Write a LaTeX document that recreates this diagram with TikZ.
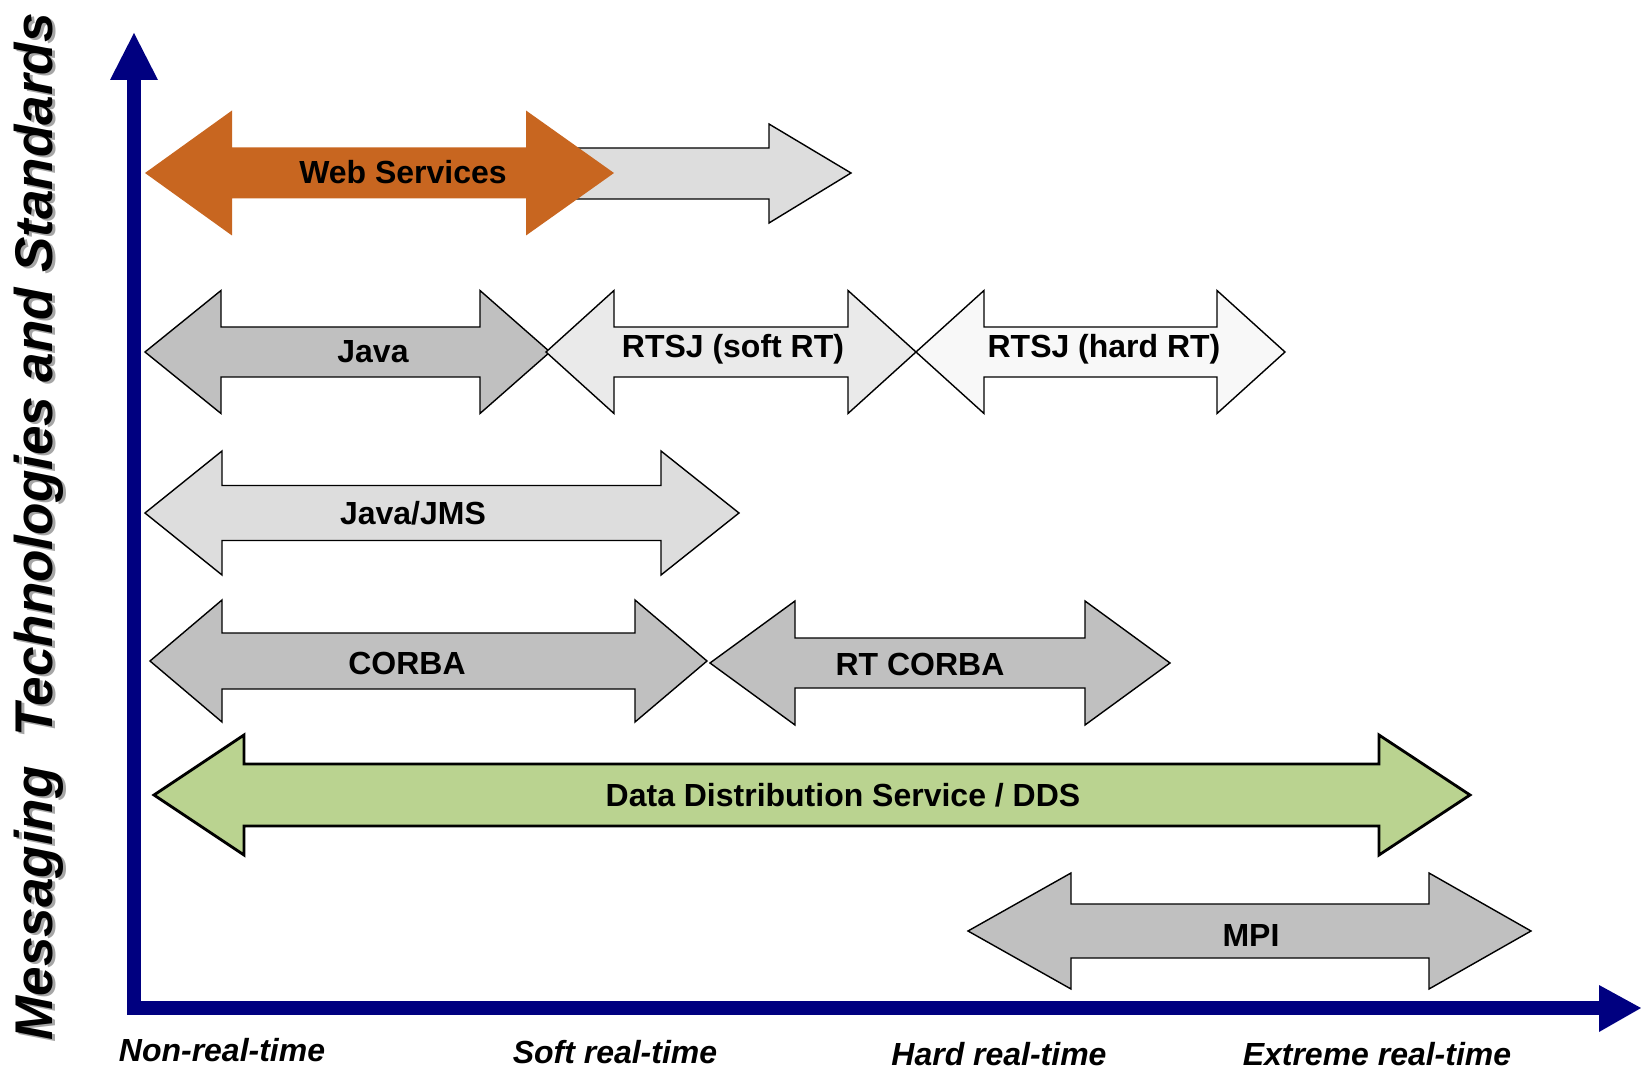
\documentclass[tikz,border=0pt]{standalone}
\usepackage{fontspec}
\setmainfont{Liberation Sans}
\usepackage{xcolor}
\usepackage{tikz}
\usetikzlibrary{positioning, arrows.meta}
\definecolor{AxisNavy}{RGB}{0,0,128}
\definecolor{WebOrange}{RGB}{200,102,32}
\definecolor{DdsGreen}{RGB}{186,211,144}
\definecolor{SilverGrey}{RGB}{192,192,192}
\definecolor{LightGrey}{RGB}{221,221,221}
\definecolor{PaleGrey}{RGB}{234,234,234}
\definecolor{WhiteGrey}{RGB}{248,248,248}
\tikzset{
  bar/.style={draw=black, line width=0.4pt, line join=miter},
  silverbar/.style={bar, fill=SilverGrey},
  lightbar/.style={bar, fill=LightGrey},
  palebar/.style={bar, fill=PaleGrey},
  whitebar/.style={bar, fill=WhiteGrey},
  webbar/.style={fill=WebOrange, draw=none},
  ddsbar/.style={bar, fill=DdsGreen, line width=0.8pt},
  barlab/.style={font=\bfseries\fontsize{9.1}{11}\selectfont, inner sep=1pt},
  axislab/.style={font=\bfseries\itshape\fontsize{9.1}{11}\selectfont, inner sep=0pt, anchor=base},
  axisline/.style={draw=AxisNavy, line width=0.14cm, line join=miter},
  axishead/.style={fill=AxisNavy},
  ttl/.style={font=\bfseries\itshape\fontsize{15.1}{18}\selectfont, rotate=90, anchor=base, inner sep=0pt},
}

\begin{document}
\begin{tikzpicture}
    \useasboundingbox (0,0) rectangle (16.41,10.67);
    % axes
    \coordinate (ytip) at (1.34,10.34);
    \coordinate (orig) at (1.34,0.59);
    \coordinate (xtip) at (16.41,0.59);
    \draw[axisline] (1.34,9.87) -- (orig) -- (15.99,0.59);
    \fill[axishead] (1.10,9.87) -- (ytip) -- (1.58,9.87) -- cycle;
    \fill[axishead] (15.99,0.35) -- (xtip) -- (15.99,0.82) -- cycle;
    % title with its shadow
    \node[ttl, text=gray!70] (ttlshadow) at (0.56,5.38) {Messaging\ \ Technologies and Standards};
    \node[ttl] (ttl) at (0.53,5.40) {Messaging\ \ Technologies and Standards};
    % grey tail behind the web services bar
    \draw[lightbar] (5.40,9.19) -- (7.69,9.19) -- (7.69,9.43) -- (8.51,8.94) -- (7.69,8.44) -- (7.69,8.68) -- (5.40,8.68) -- cycle;
    % double arrows: name/style/y/left tip/left base/right base/right tip/head/shaft/label x/label y/label
    \foreach \nm/\col/\y/\xa/\xb/\xc/\xd/\hh/\sh/\tx/\ty/\lab in {
        web/webbar/8.94/1.45/2.32/5.26/6.14/0.625/0.255/4.03/8.95/{Web Services},
        java/silverbar/7.15/1.45/2.21/4.80/5.50/0.615/0.25/3.73/7.15/Java,
        rtsjsoft/palebar/7.15/5.46/6.14/8.48/9.16/0.615/0.25/7.33/7.18/{RTSJ (soft RT)},
        rtsjhard/whitebar/7.15/9.16/9.84/12.17/12.85/0.615/0.25/11.04/7.18/{RTSJ (hard RT)},
        jms/lightbar/5.54/1.45/2.22/6.61/7.39/0.62/0.275/4.13/5.54/{Java/JMS},
        corba/silverbar/4.06/1.50/2.22/6.35/7.07/0.61/0.28/4.07/4.04/CORBA,
        rtcorba/silverbar/4.04/7.10/7.95/10.85/11.70/0.62/0.25/9.20/4.03/{RT CORBA},
        dds/ddsbar/2.72/1.54/2.44/13.79/14.70/0.60/0.31/8.43/2.72/{Data Distribution Service / DDS},
        mpi/silverbar/1.36/9.68/10.71/14.29/15.31/0.58/0.27/12.51/1.32/MPI} {
      \draw[\col] (\xa,\y) -- (\xb,\y+\hh) -- (\xb,\y+\sh) -- (\xc,\y+\sh) -- (\xc,\y+\hh) -- (\xd,\y)
        -- (\xc,\y-\hh) -- (\xc,\y-\sh) -- (\xb,\y-\sh) -- (\xb,\y-\hh) -- cycle;
      \node[barlab] (\nm) at (\tx,\ty) {\lab};
    }
    % time classes along the x axis
    \node[axislab] (nrt) at (2.22,0.06) {Non-real-time};
    \node[axislab] (srt) at (6.15,0.04) {Soft real-time};
    \node[axislab] (hrt) at (9.99,0.02) {Hard real-time};
    \node[axislab] (xrt) at (13.77,0.02) {Extreme real-time};
\end{tikzpicture}
\end{document}
